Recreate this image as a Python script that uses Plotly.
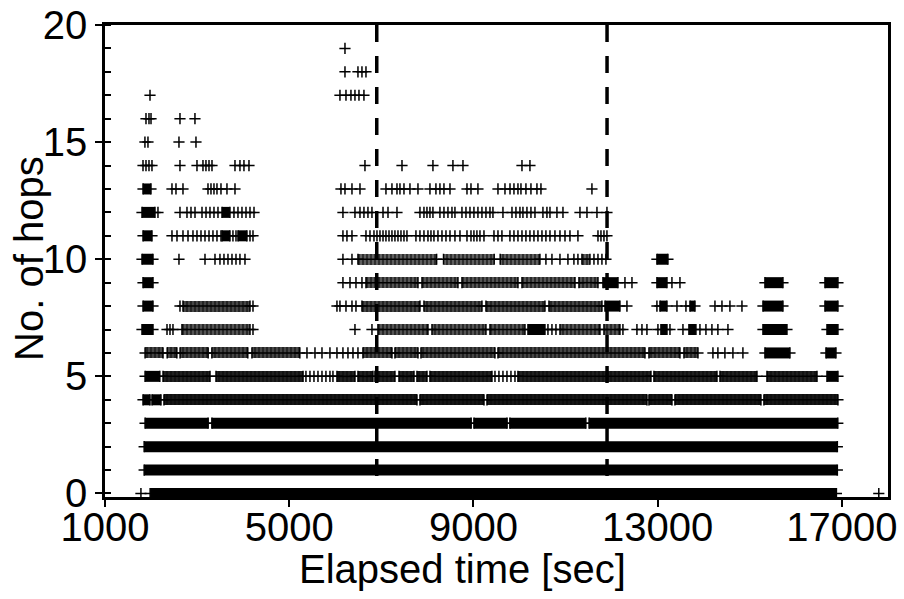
import plotly.graph_objects as go

# ---------------- data (elapsed time in seconds, per hop count) ----------------
# stretches where the "+" marks merge into one solid black bar: [start, end]
hop00_solid = [[1980, 16880]]
hop01_solid = [[1850, 16900]]
hop02_solid = [[1850, 16900]]
hop03_solid = [[1870, 3240], [3320, 8950], [9010, 9730], [9790, 11440], [11510, 16910]]
hop04_solid = [[1825, 1977], [2020, 2215]]
hop05_solid = [[1870, 2190], [16675, 16913]]
hop06_solid = [[15328, 15871], [16653, 16870]]
hop07_solid = [[1803, 2042], [10183, 10552], [13070, 13201], [13678, 13830],
               [15285, 15806], [16675, 16913]]
hop08_solid = [[1825, 2042], [11855, 12180], [13049, 13201], [13700, 13809],
               [15285, 15719], [16631, 16913]]
hop09_solid = [[1825, 2042], [11811, 12137], [12983, 13201], [15328, 15719], [16631, 16913]]
hop10_solid = [[1803, 2042], [12983, 13222]]
hop11_solid = [[1825, 2020], [3540, 3713], [3887, 4082]]
hop12_solid = [[1803, 2085], [3540, 3713]]
hop13_solid = [[1825, 1998]]

# stretches of closely packed (but still separate) "+" marks: [start, end]
hop04_dense = [[2280, 7773], [7838, 9228], [9293, 12766], [12810, 13309], [13374, 15241],
               [15306, 16913]]
hop05_dense = [[2260, 3280], [3410, 5300], [6036, 6427], [6492, 6817], [6861, 7295],
               [7383, 7708], [7773, 7990], [8055, 9401], [9965, 12853], [12918, 14286],
               [14352, 15155], [15372, 16458]]
hop06_dense = [[1870, 2260], [2350, 2560], [2630, 3240], [3320, 4100], [4190, 5230],
               [6600, 7230], [7295, 7795], [7860, 9466], [9532, 12723], [12810, 13483],
               [13570, 13874]]
hop07_dense = [[2671, 4148], [6926, 8012], [8099, 9271], [9358, 10118], [10878, 11746],
               [11833, 12180]]
hop08_dense = [[2693, 4148], [6579, 7838], [7925, 9184], [9271, 10552], [10639, 11789]]
hop09_dense = [[6666, 7795], [7882, 8663], [8750, 9966], [10053, 11204], [11290, 11703]]
hop10_dense = [[6492, 8200], [8350, 9450], [9580, 10443], [11355, 11529]]

# individual "+" marks
hop00_pts = [1780, 17800]
hop05_pts = [5363, 5450, 5537, 5624, 5711, 5797, 5884, 5949, 9467, 9553, 9640, 9727, 9814, 9901]
hop06_pts = [5385, 5559, 5711, 5884, 6036, 6166, 6275, 6384, 6492,
             14199, 14307, 14459, 14633, 14850]
hop07_pts = [2346, 2411, 2476, 4213, 6427, 6796, 10617, 10704, 10791, 12245, 12549, 12658,
             12766, 13005, 13266, 13548, 13917, 14047, 14177, 14307, 14525]
hop08_pts = [2628, 4213, 6036, 6101, 6232, 6362, 6449, 12332, 12983, 13418, 13613,
             14243, 14395, 14568, 14829]
hop09_pts = [6166, 6319, 6449, 6579, 12289, 12441, 13309, 13483]
hop10_pts = [2606, 3171, 3388, 3496, 3583, 3670, 3757, 3844, 3930, 4039, 6166, 6362,
             10573, 10704, 10878, 11051, 11181, 11268, 11616, 11703, 11789, 11876]
hop11_pts = [2454, 2563, 2693, 2802, 2910, 2997, 3084, 3171, 3258, 3344, 3431, 3518,
             3778, 3844, 4148, 4213,
             6166, 6253, 6362, 6666, 6753, 6840, 6905, 6970, 7036, 7100, 7166, 7230, 7295,
             7361, 7426, 7491, 7556, 7751, 7838, 7925, 8012, 8077, 8142, 8229, 8316, 8403,
             8490, 8598, 8707, 8859, 8946, 9010, 9075, 9141, 9228, 9445, 9532, 9618, 9792,
             9879, 9966, 10053, 10139, 10226, 10313, 10400, 10487, 10573, 10661, 10769,
             10878, 10987, 11095, 11268, 11703, 11768, 11833, 11898]
hop12_pts = [2150, 2628, 2780, 2867, 2954, 3106, 3193, 3279, 3366, 3453, 3800, 3887, 3974,
             4061, 4148, 4235,
             6166, 6427, 6536, 6622, 6709, 6796, 7036, 7144, 7339, 7838, 7925, 7990, 8055,
             8120, 8272, 8359, 8446, 8533, 8598, 8750, 8837, 8924, 9010, 9097, 9184, 9271,
             9358, 9423, 9640, 9836, 9922, 10009, 10074, 10161, 10248, 10335, 10508, 10595,
             10661, 10812, 10943, 11312, 11464, 11681, 11898]
hop13_pts = [2454, 2541, 2693, 3236, 3301, 3366, 3431, 3518, 3648, 3822,
             6123, 6210, 6362, 6536, 7100, 7230, 7339, 7404, 7491, 7621, 7795, 8055, 8185,
             8272, 8359, 8490, 8859, 8946, 9097, 9532, 9684, 9793, 9879, 9966, 10031,
             10139, 10248, 10378, 10465, 11572]
hop14_pts = [1825, 1890, 1955, 2020, 2628, 2997, 3127, 3192, 3258, 3323, 3822, 3930, 4017,
             4126, 6644, 7448, 8120, 8554, 8772, 10053, 10226]
hop15_pts = [1867, 1933, 2606, 2975]
hop16_pts = [1890, 1955, 1999, 2628, 2953]
hop17_pts = [1977, 6101, 6232, 6340, 6427, 6514, 6622]
hop18_pts = [6210, 6492, 6579, 6666]
hop19_pts = [6210]

period_bounds = [6900, 11900]          # dashed vertical lines
x_ticks = [1000, 5000, 9000, 13000, 17000]
y_ticks = [0, 5, 10, 15, 20]
x_title = "Elapsed time [sec]"
y_title = "No. of hops"

E = []
solid_by_hop = [hop00_solid, hop01_solid, hop02_solid, hop03_solid, hop04_solid,
                hop05_solid, hop06_solid, hop07_solid, hop08_solid, hop09_solid,
                hop10_solid, hop11_solid, hop12_solid, hop13_solid, E, E, E, E, E, E]
dense_by_hop = [E, E, E, E, hop04_dense, hop05_dense, hop06_dense, hop07_dense,
                hop08_dense, hop09_dense, hop10_dense, E, E, E, E, E, E, E, E, E]
pts_by_hop = [hop00_pts, E, E, E, E, hop05_pts, hop06_pts, hop07_pts, hop08_pts,
              hop09_pts, hop10_pts, hop11_pts, hop12_pts, hop13_pts, hop14_pts,
              hop15_pts, hop16_pts, hop17_pts, hop18_pts, hop19_pts]

# rendering style of packed marks per row: (tone between strokes, stroke solidity)
packing_style = {4: ("#1c1c1c", 0.7), 5: ("#262626", 0.65), 6: ("#4a4a4a", 0.55),
                 7: ("#555555", 0.5), 8: ("#4a4a4a", 0.55), 9: ("#555555", 0.5),
                 10: ("#606060", 0.5)}
MARK_H = 0.47   # height of a "+" mark in hop units (about 11 px)

# ---------------- build traces ----------------
fig = go.Figure()

# packed "+" marks: vertical strokes drawn as a striped band
for h, ints in enumerate(dense_by_hop):
    if not ints:
        continue
    tone, sol = packing_style[h]
    fig.add_trace(go.Bar(
        orientation="h", y=[h] * len(ints), base=[a for a, b in ints],
        x=[b - a for a, b in ints], width=MARK_H,
        marker=dict(color=tone, line=dict(width=0),
                    pattern=dict(shape="|", size=4, solidity=sol,
                                 fgcolor="black", fillmode="overlay")),
        hoverinfo="skip", showlegend=False))

sx, sy, ax_, ay_, mx, my = [], [], [], [], [], []
for h, ints in enumerate(solid_by_hop):
    for a, b in ints:
        sx += [a, b, None]; sy += [h, h, None]
        mx += [a, b]; my += [h, h]
for h, ints in enumerate(dense_by_hop):
    for a, b in ints:
        ax_ += [a, b, None]; ay_ += [h, h, None]
        mx += [a, b]; my += [h, h]
for h, pts in enumerate(pts_by_hop):
    for t in pts:
        mx.append(t); my.append(h)

fig.add_trace(go.Scatter(x=sx, y=sy, mode="lines", line=dict(color="black", width=11),
                         hoverinfo="skip", showlegend=False))
# horizontal arms running through packed marks
fig.add_trace(go.Scatter(x=ax_, y=ay_, mode="lines", line=dict(color="black", width=1.5),
                         hoverinfo="skip", showlegend=False))
fig.add_trace(go.Scatter(x=mx, y=my, mode="markers",
                         marker=dict(symbol="cross-thin", size=8,
                                     line=dict(color="black", width=1.5)),
                         hoverinfo="skip", showlegend=False))

for xb in period_bounds:
    fig.add_trace(go.Scatter(x=[xb, xb], y=[20, -0.15], mode="lines",
                             line=dict(color="black", width=3.5, dash="17px,14px"),
                             hoverinfo="skip", showlegend=False))

font_family = "Liberation Sans, Arial, sans-serif"
tick_font = dict(family=font_family, size=40, color="black")
title_font = dict(family=font_family, size=40, color="black")

fig.update_layout(
    width=904, height=599,
    margin=dict(l=105, r=16, t=25, b=102),
    paper_bgcolor="white", plot_bgcolor="white",
    barmode="overlay", bargap=0,
    xaxis=dict(range=[1000, 18000], tickvals=x_ticks, ticktext=[str(v) for v in x_ticks],
               ticks="outside", ticklen=7, tickwidth=2, tickcolor="black",
               ticklabelstandoff=-14,
               showline=True, linewidth=2.5, linecolor="black", mirror=True,
               showgrid=False, zeroline=False, tickfont=tick_font, automargin=False),
    yaxis=dict(range=[-0.15, 20], tickvals=y_ticks, ticktext=[str(v) for v in y_ticks],
               ticks="outside", ticklen=7, tickwidth=2, tickcolor="black",
               minor=dict(dtick=1, ticks="inside", ticklen=6, tickwidth=2, tickcolor="black"),
               showline=True, linewidth=2.5, linecolor="black", mirror=True,
               showgrid=False, zeroline=False, tickfont=tick_font, automargin=False),
    annotations=[
        dict(text=x_title, xref="paper", yref="paper", x=0.457, y=-0.152,
             xanchor="center", yanchor="middle", showarrow=False, font=title_font),
        dict(text=y_title, xref="paper", yref="paper", x=-0.098, y=0.505,
             xanchor="center", yanchor="middle", textangle=-90, showarrow=False,
             font=title_font),
    ],
)

fig.write_html("out.html")
